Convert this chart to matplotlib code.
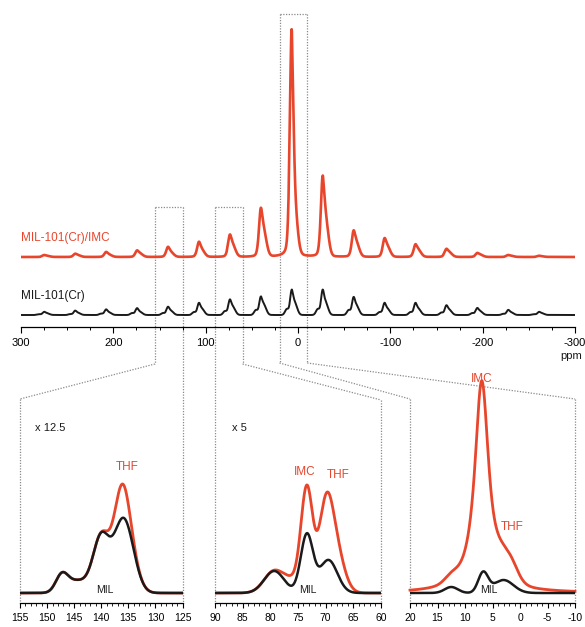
import numpy as np
import matplotlib.pyplot as plt

plt.rcParams['font.family'] = ['Liberation Sans', 'DejaVu Sans']
plt.rcParams['axes.unicode_minus'] = False

RED = '#e8462c'
DOT = '#8a8a8a'

# top spectrum: spinning sideband positions (ppm) and heights
sb_ppm = [275, 241.5, 208, 174.5, 141, 107.5, 74, 40.5, 7, -26.5, -60, -93.5, -127, -160.5, -194, -227.5, -261]
# MIL-101(Cr): main spike, right shoulder, small left bump
mil_main = [2.5, 3.5, 4.5, 5.5, 6.5, 9.5, 12, 14, 20, 20, 14, 9.5, 9.5, 7.5, 5.5, 4, 2.5]
mil_sh = [1.5, 2, 2.5, 3, 4, 6, 8, 10, 12, 12, 9, 6, 6, 5, 3.5, 2.5, 1.5]
mil_side = [0.8, 1, 1.5, 2, 2, 3, 4, 5, 6, 6, 5, 3, 3, 2.5, 2, 1.2, 0.8]
# MIL-101(Cr)/IMC: IMC sideband + THF shoulder
imc_main = [1.5, 2.5, 4, 5, 8, 12, 17, 37, 208, 64, 20, 14, 9.5, 6, 3, 1.5, 1]
thf_top = [1, 1.5, 2, 3, 4, 6, 10, 22, 38, 32, 12, 9, 6, 4, 2, 1, 0.5]

# zoomed panels: (ppm, amplitude, width) of the peaks
p1_mil_ppm = [147.3, 144.5, 140.0, 136.2, 134.5]
p1_mil_amp = [16, 12, 56, 62, 20]
p1_mil_sig = [1.1, 2.0, 1.5, 1.6, 1.5]
p1_red_ppm = [136.2]
p1_red_amp = [34]
p1_red_sig = [1.3]

p2_mil_ppm = [79.3, 73.4, 69.5]
p2_mil_amp = [22, 58, 33]
p2_mil_sig = [1.8, 1.1, 1.6]
p2_red_ppm = [76.0, 73.4, 70.0, 68.0]
p2_red_amp = [10, 45, 55, 28]
p2_red_sig = [1.5, 1.0, 1.2, 1.5]

p3_mil_ppm = [12.5, 6.7, 3.0]
p3_mil_amp = [6, 20, 13]
p3_mil_sig = [1.2, 0.9, 1.8]
p3_imc_ppm, p3_imc_amp, p3_imc_hw = 7.0, 192, 1.6
p3_thf_ppm = [3.5, 1.5]
p3_thf_amp = [5, 10]
p3_thf_sig = [1.2, 1.2]

panels = [
    dict(lim=(155, 125), ticks=[155, 150, 145, 140, 135, 130, 125]),
    dict(lim=(90, 60), ticks=[90, 85, 80, 75, 70, 65, 60]),
    dict(lim=(20, -10), ticks=[20, 15, 10, 5, 0, -5, -10]),
]


def gauss(x, c, a, s):
    return a * np.exp(-(x - c) ** 2 / (2 * s ** 2))


def lorentz(x, c, a, w):
    return a / (1 + ((x - c) / w) ** 2)


def peaks(x, cs, amps, sigs):
    y = np.zeros_like(x)
    for c, a, s in zip(cs, amps, sigs):
        y += gauss(x, c, a, s)
    return y


W, H = 585, 627
fig = plt.figure(figsize=(W / 100, H / 100), dpi=100)

# ---- top spectrum
ax = fig.add_axes([21 / W, 1 - 327 / H, 554 / W, 317 / H])
x = np.linspace(-300, 300, 6000)
black = np.zeros_like(x) + 12
red = np.zeros_like(x) + 70
for i, c in enumerate(sb_ppm):
    black += gauss(x, c, mil_main[i], 1.6) + gauss(x, c - 3.5, mil_sh[i], 2.6) + gauss(x, c + 5, mil_side[i], 2.0)
    red += 0.6 * gauss(x, c, imc_main[i], 2.0) + lorentz(x, c, 0.4 * imc_main[i], 2.0)
    red += gauss(x, c - 3.5, thf_top[i], 3.0)
ax.plot(x, red, color=RED, lw=1.9)
ax.plot(x, black, color='#1a1a1a', lw=1.4)
ax.set_xlim(300, -300)
ax.set_ylim(0, 317)
for s in ['left', 'right', 'top']:
    ax.spines[s].set_visible(False)
ax.spines['bottom'].set_linewidth(0.9)
ax.set_yticks([])
ax.set_xticks(range(300, -301, -100))
ax.set_xticks(range(300, -301, -25), minor=True)
ax.tick_params(axis='x', direction='out', length=4, width=0.8, pad=4, labelsize=8)
ax.tick_params(axis='x', which='minor', direction='out', length=2.5, width=0.7)
ax.patch.set_alpha(0)

# ---- overlay in pixel coordinates
ov = fig.add_axes([0, 0, 1, 1], zorder=-1)
ov.set_xlim(0, W)
ov.set_ylim(H, 0)
ov.axis('off')


def px(v):
    return ax.transData.transform((v, 0))[0]


# inset panels
ins_left = [20, px(90), 410]
ins_right = [px(125), 381, 575]
axes_in = []
for i, p in enumerate(panels):
    a = fig.add_axes([ins_left[i] / W, 1 - 603 / H, (ins_right[i] - ins_left[i]) / W, 204 / H])
    a.set_xlim(*p['lim'])
    a.set_ylim(0, 204)
    for s in ['left', 'right', 'top']:
        a.spines[s].set_visible(False)
    a.spines['bottom'].set_linewidth(0.9)
    a.set_yticks([])
    a.set_xticks(p['ticks'])
    a.set_xticks(np.arange(p['lim'][1], p['lim'][0] + 1, 1), minor=True)
    a.tick_params(axis='x', direction='out', length=3.5, width=0.8, pad=4, labelsize=7.5)
    a.tick_params(axis='x', which='minor', direction='out', length=2, width=0.6)
    a.patch.set_alpha(0)
    axes_in.append(a)

# panel 1
xi = np.linspace(155, 125, 800)
mil = 10 + peaks(xi, p1_mil_ppm, p1_mil_amp, p1_mil_sig)
axes_in[0].plot(xi, mil + peaks(xi, p1_red_ppm, p1_red_amp, p1_red_sig), color=RED, lw=2.0)
axes_in[0].plot(xi, mil, color='#1a1a1a', lw=1.8)

# panel 2
xi = np.linspace(90, 60, 800)
mil = 10 + peaks(xi, p2_mil_ppm, p2_mil_amp, p2_mil_sig)
axes_in[1].plot(xi, mil + peaks(xi, p2_red_ppm, p2_red_amp, p2_red_sig), color=RED, lw=2.0)
axes_in[1].plot(xi, mil, color='#1a1a1a', lw=1.8)

# panel 3
xi = np.linspace(20, -10, 800)
mil = 10 + peaks(xi, p3_mil_ppm, p3_mil_amp, p3_mil_sig)
red3 = mil + lorentz(xi, p3_imc_ppm, p3_imc_amp, p3_imc_hw) + peaks(xi, p3_thf_ppm, p3_thf_amp, p3_thf_sig)
axes_in[2].plot(xi, red3, color=RED, lw=2.0, clip_on=False)
axes_in[2].plot(xi, mil, color='#1a1a1a', lw=1.8)

# dotted boxes and connectors
b1l, b1r = px(155), px(125)
b2l, b2r = px(90), px(60)
b3l, b3r = px(20), px(-10)
segs = [
    # box 1
    [(b1l, 207), (b1r, 207)], [(b1l, 207), (b1l, 364)], [(b1l, 364), (20, 399)],
    [(20, 399), (20, 603)], [(b1r, 207), (b1r, 603)],
    # box 2
    [(b2l, 207), (b2r, 207)], [(b2l, 207), (b2l, 603)], [(b2r, 207), (b2r, 364)],
    [(b2r, 364), (381, 400)], [(381, 400), (381, 603)],
    # box 3
    [(b3l, 14), (b3r, 14)], [(b3l, 14), (b3l, 363)], [(b3r, 14), (b3r, 363)],
    [(b3l, 363), (410, 399)], [(b3r, 363), (575, 399)],
    [(410, 399), (410, 603)], [(575, 399), (575, 603)],
]
for s in segs:
    ov.plot([s[0][0], s[1][0]], [s[0][1], s[1][1]], color=DOT, lw=0.9, ls=(0, (1, 1.2)))

# labels
ov.text(21, 238, 'MIL-101(Cr)/IMC', color=RED, fontsize=8.5, va='center', ha='left')
ov.text(21, 296, 'MIL-101(Cr)', color='#1a1a1a', fontsize=8.5, va='center', ha='left')
ov.text(560, 356, 'ppm', color='#1a1a1a', fontsize=8, va='center', ha='left')
ov.text(35, 428, 'x 12.5', color='#1a1a1a', fontsize=8, va='center', ha='left')
ov.text(232, 428, 'x 5', color='#1a1a1a', fontsize=8, va='center', ha='left')
ov.text(127, 467, 'THF', color=RED, fontsize=8.5, va='center', ha='center')
ov.text(305, 472, 'IMC', color=RED, fontsize=8.5, va='center', ha='center')
ov.text(338, 475, 'THF', color=RED, fontsize=8.5, va='center', ha='center')
ov.text(482, 379, 'IMC', color=RED, fontsize=8.5, va='center', ha='center')
ov.text(512, 527, 'THF', color=RED, fontsize=8.5, va='center', ha='center')
for xm in [105, 308, 489]:
    ov.text(xm, 590, 'MIL', color='#1a1a1a', fontsize=7.5, va='center', ha='center')

fig.savefig('out.png', dpi=100)
